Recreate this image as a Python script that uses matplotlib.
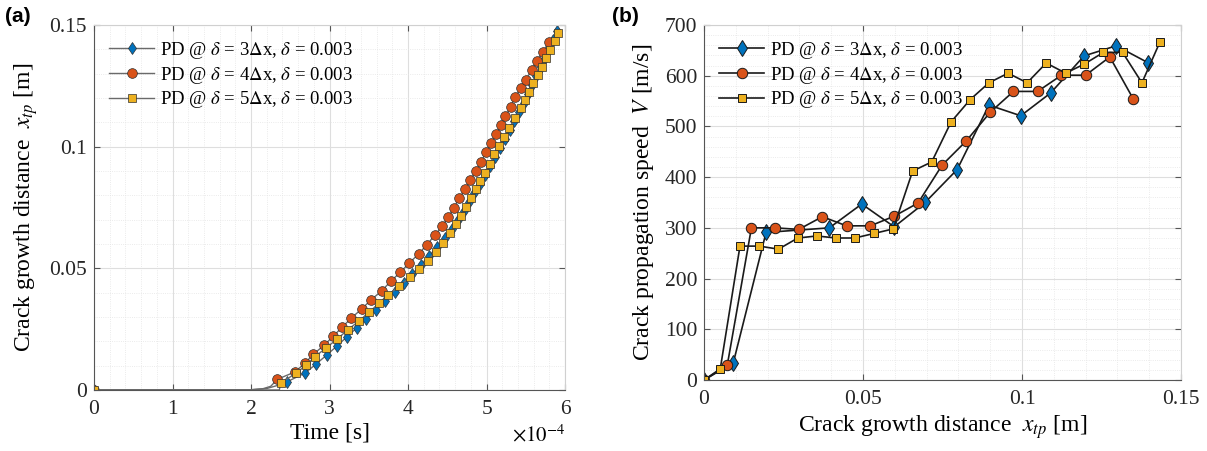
import matplotlib
import matplotlib.pyplot as plt
from matplotlib.ticker import MultipleLocator

matplotlib.use("Agg")

plt.rcParams["font.family"] = "serif"
plt.rcParams["font.serif"] = ["Liberation Serif", "DejaVu Serif"]
plt.rcParams["mathtext.fontset"] = "stix"

# colours (MATLAB default order)
c_blue = "#0072BD"
c_orange = "#D95319"
c_yellow = "#EDB120"

labels = [r"PD @ $\delta$ = 3$\Delta$x, $\delta$ = 0.003",
          r"PD @ $\delta$ = 4$\Delta$x, $\delta$ = 0.003",
          r"PD @ $\delta$ = 5$\Delta$x, $\delta$ = 0.003"]

# ---- (a) crack tip position vs time, time in 1e-4 s ----
# first few points of each list trace the flat line before the crack starts (no marker)
t_3dx = [0, 2.0, 2.2, 2.33, 2.460, 2.690, 2.830, 2.965, 3.095, 3.220, 3.345, 3.468, 3.590,
         3.710, 3.828, 3.945, 4.055, 4.160, 4.265, 4.370, 4.470, 4.560, 4.640, 4.712,
         4.780, 4.845, 4.910, 4.975, 5.040, 5.105, 5.168, 5.232, 5.294, 5.354, 5.412,
         5.470, 5.526, 5.580, 5.634, 5.687, 5.740, 5.792, 5.843, 5.895]
x_3dx = [0, 0.0001, 0.0006, 0.0018, 0.0034, 0.0070, 0.0107, 0.0144, 0.0181, 0.0218,
         0.0255, 0.0292, 0.0329, 0.0366, 0.0403, 0.0440, 0.0477, 0.0514, 0.0551, 0.0588,
         0.0625, 0.0662, 0.0699, 0.0736, 0.0773, 0.0810, 0.0847, 0.0884, 0.0921, 0.0958,
         0.0995, 0.1032, 0.1069, 0.1106, 0.1143, 0.1180, 0.1217, 0.1254, 0.1291, 0.1328,
         0.1365, 0.1402, 0.1439, 0.1476]

t_4dx = [0, 2.0, 2.15, 2.25, 2.335, 2.558, 2.687, 2.794, 2.931, 3.047, 3.163, 3.279, 3.408,
         3.532, 3.665, 3.781, 3.901, 4.017, 4.133, 4.240, 4.340, 4.436, 4.513, 4.586,
         4.650, 4.727, 4.790, 4.865, 4.930, 4.994, 5.058, 5.122, 5.187, 5.240, 5.310,
         5.360, 5.436, 5.500, 5.573, 5.637, 5.720, 5.790]
x_4dx = [0, 0.0001, 0.0005, 0.0015, 0.0044, 0.0074, 0.0110, 0.0147, 0.0184, 0.0221,
         0.0259, 0.0296, 0.0333, 0.0371, 0.0408, 0.0447, 0.0484, 0.0522, 0.0559, 0.0597,
         0.0636, 0.0674, 0.0712, 0.0749, 0.0788, 0.0825, 0.0863, 0.0901, 0.0938, 0.0977,
         0.1014, 0.1052, 0.1089, 0.1127, 0.1164, 0.1203, 0.1240, 0.1274, 0.1315, 0.1352,
         0.1390, 0.1430]

t_5dx = [0, 2.0, 2.36, 2.378, 2.571, 2.700, 2.815, 2.955, 3.100, 3.230, 3.370, 3.500, 3.630,
         3.750, 3.890, 4.020, 4.140, 4.250, 4.350, 4.450, 4.530, 4.607, 4.672, 4.736,
         4.800, 4.865, 4.920, 4.985, 5.042, 5.100, 5.160, 5.225, 5.290, 5.365, 5.440,
         5.490, 5.540, 5.595, 5.650, 5.700, 5.755, 5.810, 5.865, 5.910]
x_5dx = [0, 0, 0, 0.0030, 0.0068, 0.0102, 0.0137, 0.0173, 0.0210, 0.0247, 0.0282, 0.0319,
         0.0356, 0.0392, 0.0427, 0.0463, 0.0497, 0.0532, 0.0568, 0.0604, 0.0644, 0.0681,
         0.0716, 0.0751, 0.0788, 0.0825, 0.0859, 0.0893, 0.0930, 0.0969, 0.1004, 0.1040,
         0.1075, 0.1117, 0.1158, 0.1192, 0.1226, 0.1260, 0.1295, 0.1329, 0.1363, 0.1397,
         0.1436, 0.1467]

# ---- (b) speed vs crack tip position ----
d_3dx = [0, 0.0092, 0.0195, 0.0394, 0.0496, 0.0598, 0.0695, 0.0796, 0.0896, 0.0996,
         0.1090, 0.1195, 0.1296, 0.1395]
v_3dx = [0, 34, 291, 300, 347, 302, 350, 415, 542, 521, 566, 639, 659, 626]

d_4dx = [0, 0.0073, 0.0149, 0.0223, 0.0298, 0.0372, 0.0448, 0.0523, 0.0598, 0.0673,
         0.0749, 0.0824, 0.0900, 0.0973, 0.1049, 0.1124, 0.1200, 0.1276, 0.1349]
v_4dx = [0, 29, 300, 300, 297, 322, 304, 304, 323, 349, 424, 471, 528, 569, 569, 601,
         601, 637, 555]

d_5dx = [0, 0.0051, 0.0113, 0.0174, 0.0234, 0.0295, 0.0355, 0.0415, 0.0474, 0.0535,
         0.0595, 0.0656, 0.0716, 0.0777, 0.0837, 0.0896, 0.0956, 0.1016, 0.1076, 0.1137,
         0.1196, 0.1256, 0.1316, 0.1377, 0.1434]
v_5dx = [0, 22, 264, 264, 258, 280, 284, 280, 280, 289, 298, 412, 430, 509, 553, 586,
         605, 586, 625, 605, 623, 646, 646, 586, 667]

fig = plt.figure(figsize=(12.07, 4.51), dpi=100)
ax1 = fig.add_axes([0.0779, 0.1353, 0.3903, 0.8093])
ax2 = fig.add_axes([0.5833, 0.1574, 0.3952, 0.7872])


def style_axes(ax):
    ax.grid(which="major", color="#dedede", linewidth=0.8)
    ax.grid(which="minor", color="#e4e4e4", linewidth=0.6, linestyle=":")
    ax.set_axisbelow(True)
    ax.tick_params(which="both", direction="in", top=True, right=True,
                   labelsize=15.5, colors="#262626")
    ax.tick_params(axis="x", pad=7)
    ax.tick_params(axis="y", pad=5)
    ax.tick_params(which="major", length=4, color="#555555")
    ax.tick_params(which="minor", length=0)
    for side in ["left", "bottom"]:
        ax.spines[side].set_color("#555555")
    for side in ["top", "right"]:
        ax.spines[side].set_color("#d0d0d0")


def left_marks(n_skip, n):
    return [0] + list(range(n_skip, n))


ax1.plot(t_3dx, x_3dx, color="#6a6a6a", lw=1.0, marker="d", ms=6.5, mfc=c_blue,
         mec="#303030", mew=0.5, markevery=left_marks(4, len(t_3dx)), label=labels[0])
ax1.plot(t_4dx, x_4dx, color="#6a6a6a", lw=1.0, marker="o", ms=7, mfc=c_orange,
         mec="#303030", mew=0.5, markevery=left_marks(4, len(t_4dx)), label=labels[1])
ax1.plot(t_5dx, x_5dx, color="#6a6a6a", lw=1.0, marker="s", ms=5.5, mfc=c_yellow,
         mec="#303030", mew=0.5, markevery=left_marks(3, len(t_5dx)), label=labels[2])

ax1.set_xlim(0, 6)
ax1.set_ylim(0, 0.15)
ax1.set_xticks(range(7))
ax1.set_xticklabels([str(i) for i in range(7)])
ax1.set_yticks([0, 0.05, 0.1, 0.15])
ax1.set_yticklabels(["0", "0.05", "0.1", "0.15"])
ax1.xaxis.set_minor_locator(MultipleLocator(0.2))
ax1.yaxis.set_minor_locator(MultipleLocator(0.01))
style_axes(ax1)
ax1.set_xlabel("Time [s]", fontsize=17, labelpad=3)
ax1.set_ylabel(r"Crack growth distance  $x_{tp}$ [m]", fontsize=17, labelpad=7)
ax1.text(1.0, -0.095, r"$\times10^{-4}$", transform=ax1.transAxes, ha="right",
         va="top", fontsize=15)
ax1.legend(loc="upper left", frameon=False, fontsize=13.5, handlelength=2.4,
           handletextpad=0.3, labelspacing=0.2, borderaxespad=0.4,
           bbox_to_anchor=(0.0, 1.0))

ax2.plot(d_3dx, v_3dx, color="#1a1a1a", lw=1.2, marker="d", ms=8, mfc=c_blue,
         mec="#1a1a1a", mew=0.7, label=labels[0])
ax2.plot(d_4dx, v_4dx, color="#1a1a1a", lw=1.2, marker="o", ms=7.5, mfc=c_orange,
         mec="#1a1a1a", mew=0.7, label=labels[1])
ax2.plot(d_5dx, v_5dx, color="#1a1a1a", lw=1.2, marker="s", ms=6, mfc=c_yellow,
         mec="#1a1a1a", mew=0.7, label=labels[2])

ax2.set_xlim(0, 0.15)
ax2.set_ylim(0, 700)
ax2.set_xticks([0, 0.05, 0.1, 0.15])
ax2.set_xticklabels(["0", "0.05", "0.1", "0.15"])
ax2.set_yticks(range(0, 701, 100))
ax2.xaxis.set_minor_locator(MultipleLocator(0.01))
ax2.yaxis.set_minor_locator(MultipleLocator(20))
style_axes(ax2)
ax2.set_xlabel(r"Crack growth distance  $x_{tp}$ [m]", fontsize=17, labelpad=3)
ax2.set_ylabel(r"Crack propagation speed  $V$ [m/s]", fontsize=17, labelpad=6)
ax2.legend(loc="upper left", frameon=False, fontsize=13.5, handlelength=2.4,
           handletextpad=0.3, labelspacing=0.2, borderaxespad=0.4,
           bbox_to_anchor=(0.0, 1.0))

fig.text(0.004, 0.985, "(a)", fontsize=15, fontweight="bold", va="top",
         family="Liberation Sans")
fig.text(0.507, 0.985, "(b)", fontsize=15, fontweight="bold", va="top",
         family="Liberation Sans")

plt.savefig("out.png", dpi=100)
plt.close()
